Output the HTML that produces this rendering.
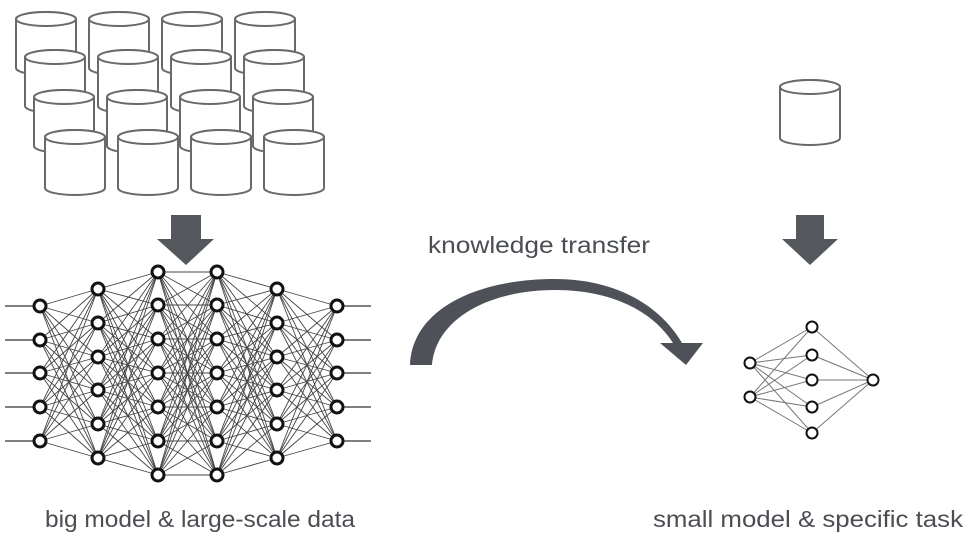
<!DOCTYPE html>
<html><head><meta charset="utf-8"><style>
html,body{margin:0;padding:0;background:#fff;}
svg{display:block;}
text{font-family:"Liberation Sans",sans-serif;fill:#4a4d52;}
</style></head><body>
<svg id="s" width="973" height="546" viewBox="0 0 973 546" xmlns="http://www.w3.org/2000/svg">
<g id="cyl"></g>
<g id="net"></g>
<polygon points="171,215 201,215 201,239 214,239 186,265 157,239 171,239" fill="#54575c"/>
<polygon points="796,215 824,215 824,239 838,239 810,265 782,239 796,239" fill="#54575c"/>
<path d="M410,365 C412,310 475,279 555,279 C615,279 660,305 682,343 L703,343 L686,365 L660,343 L673,343 C652,310 610,290 555,290 C490,290 436,318 432,365 Z" fill="#4e5157"/>
<text x="428" y="253" font-size="23" textLength="222" lengthAdjust="spacingAndGlyphs">knowledge transfer</text>
<text x="45" y="527" font-size="23" textLength="310" lengthAdjust="spacingAndGlyphs">big model &amp; large-scale data</text>
<text x="653" y="527" font-size="23" textLength="310" lengthAdjust="spacingAndGlyphs">small model &amp; specific task</text>
</svg>
<script>
var NS="http://www.w3.org/2000/svg";
function el(p,t,a){var e=document.createElementNS(NS,t);for(var k in a)e.setAttribute(k,a[k]);p.appendChild(e);return e;}
var cg=document.getElementById("cyl");
function cyl(x,y,w,h){
  var ry=7;
  el(cg,"path",{d:"M"+x+","+(y+ry)+" L"+x+","+(y+h-ry)+" A"+(w/2)+","+ry+" 0 0 0 "+(x+w)+","+(y+h-ry)+" L"+(x+w)+","+(y+ry)+" A"+(w/2)+","+ry+" 0 0 0 "+x+","+(y+ry)+" Z",fill:"#fff",stroke:"#6a6a6a","stroke-width":"2"});
  el(cg,"ellipse",{cx:x+w/2,cy:y+ry,rx:w/2,ry:ry,fill:"#fff",stroke:"#6a6a6a","stroke-width":"2"});
}
var rows=[[16,12],[25,50],[34,90],[45,130]];
for(var r=0;r<4;r++)for(var c=0;c<4;c++){var dx=[0,73,146,219][c];cyl(rows[r][0]+dx,rows[r][1],60,r==3?65:63);}
cyl(780,80,60,65);
var ng=document.getElementById("net");
var L=[[40,[306,340,373,407,441]],[98,[289,323,357,390,424,458]],[158,[272,305,339,373,407,441,475]],[217,[272,305,339,373,407,441,475]],[277,[289,323,357,390,424,458]],[337,[306,340,373,407,441]]];
[306,340,373,407,441].forEach(function(y){el(ng,"line",{x1:5,y1:y,x2:40,y2:y,stroke:"#333","stroke-width":"1.2"});el(ng,"line",{x1:337,y1:y,x2:371,y2:y,stroke:"#333","stroke-width":"1.2"});});
for(var i=0;i<L.length-1;i++){L[i][1].forEach(function(a){L[i+1][1].forEach(function(b){el(ng,"line",{x1:L[i][0],y1:a,x2:L[i+1][0],y2:b,stroke:"#444","stroke-width":"0.9"});});});}
L.forEach(function(l){l[1].forEach(function(y){el(ng,"circle",{cx:l[0],cy:y,r:6,fill:"#fff",stroke:"#111","stroke-width":"3"});});});
var S=[[750,[363,397]],[812,[327,355,380,407,433]],[873,[380]]];
for(var i=0;i<2;i++){S[i][1].forEach(function(a){S[i+1][1].forEach(function(b){el(ng,"line",{x1:S[i][0],y1:a,x2:S[i+1][0],y2:b,stroke:"#777","stroke-width":"1"});});});}
S.forEach(function(l){l[1].forEach(function(y){el(ng,"circle",{cx:l[0],cy:y,r:5.5,fill:"#fff",stroke:"#111","stroke-width":"2"});});});
</script>
</body></html>
